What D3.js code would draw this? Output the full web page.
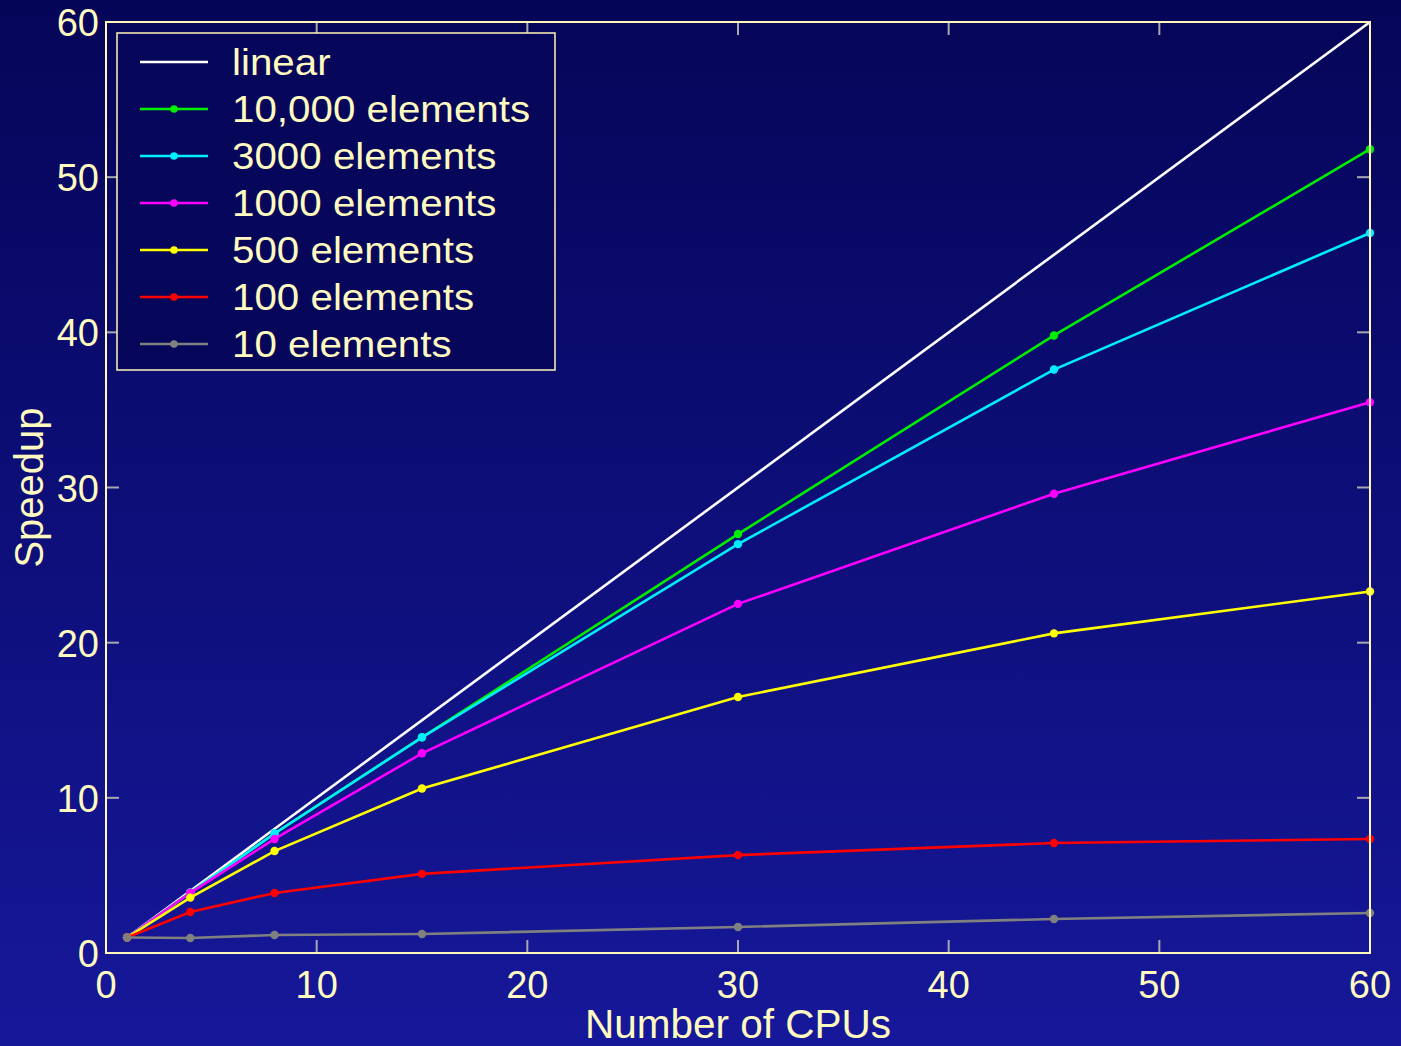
<!DOCTYPE html>
<html>
<head>
<meta charset="utf-8">
<script src="https://cdn.jsdelivr.net/npm/d3@7"></script>
<style>
  html, body { margin: 0; padding: 0; background: #0a0a6e; }
  svg { display: block; }
</style>
</head>
<body>
<svg id="chart" width="1401" height="1046"></svg>
<script>
// CPU counts measured
const cpus = [1, 4, 8, 15, 30, 45, 60];

// speedup per problem size
const speed10000 = [1, 3.9, 7.7, 13.9, 27.0, 39.8, 51.8];
const speed3000  = [1, 3.9, 7.7, 13.9, 26.35, 37.6, 46.4];
const speed1000  = [1, 3.88, 7.35, 12.87, 22.5, 29.6, 35.5];
const speed500   = [1, 3.57, 6.57, 10.6, 16.5, 20.6, 23.3];
const speed100   = [1, 2.64, 3.87, 5.1, 6.31, 7.09, 7.35];
const speed10    = [1, 0.97, 1.16, 1.22, 1.68, 2.19, 2.58];

const seriesNames  = ['10,000 elements', '3000 elements', '1000 elements', '500 elements', '100 elements', '10 elements'];
const seriesValues = [speed10000, speed3000, speed1000, speed500, speed100, speed10];
const seriesColors = ['#00ee00', '#00eeff', '#ff00ff', '#ffff00', '#ff0000', '#808080'];

const xTicks = [0, 10, 20, 30, 40, 50, 60];
const yTicks = [0, 10, 20, 30, 40, 50, 60];

const W = 1401, H = 1046;
const textCol = '#fffbc0';
const frameCol = '#fff8b8';
const tickCol = '#a8a8b0';
const font = 'Liberation Sans, Arial, Helvetica, sans-serif';

const svg = d3.select('#chart');

// background gradient
const defs = svg.append('defs');
const grad = defs.append('linearGradient').attr('id', 'bg')
  .attr('x1', 0).attr('y1', 0).attr('x2', 0).attr('y2', 1);
grad.append('stop').attr('offset', '0%').attr('stop-color', '#050558');
grad.append('stop').attr('offset', '100%').attr('stop-color', '#16189a');
svg.append('rect').attr('width', W).attr('height', H).attr('fill', 'url(#bg)');

const x = d3.scaleLinear().domain([0, 60]).range([106, 1370]);
const y = d3.scaleLinear().domain([0, 60]).range([953, 22]);

// inward ticks on all four sides
const tl = 13;
const g = svg.append('g');
xTicks.slice(1, -1).forEach(t => {
  g.append('line').attr('x1', x(t)).attr('x2', x(t)).attr('y1', y(0)).attr('y2', y(0) - tl)
    .attr('stroke', tickCol).attr('stroke-width', 2);
  g.append('line').attr('x1', x(t)).attr('x2', x(t)).attr('y1', y(60)).attr('y2', y(60) + tl)
    .attr('stroke', tickCol).attr('stroke-width', 2);
});
yTicks.slice(1, -1).forEach(t => {
  g.append('line').attr('x1', x(0)).attr('x2', x(0) + tl).attr('y1', y(t)).attr('y2', y(t))
    .attr('stroke', tickCol).attr('stroke-width', 2);
  g.append('line').attr('x1', x(60)).attr('x2', x(60) - tl).attr('y1', y(t)).attr('y2', y(t))
    .attr('stroke', tickCol).attr('stroke-width', 2);
});

// tick labels
svg.append('g').selectAll('text').data(xTicks).join('text')
  .attr('x', d => x(d)).attr('y', 998)
  .attr('text-anchor', 'middle')
  .attr('font-family', font).attr('font-size', 38).attr('fill', textCol)
  .text(d => d);
svg.append('g').selectAll('text').data(yTicks).join('text')
  .attr('x', 99).attr('y', d => y(d) + 14)
  .attr('text-anchor', 'end')
  .attr('font-family', font).attr('font-size', 38).attr('fill', textCol)
  .text(d => d);

// axis titles
svg.append('text').attr('x', x(30)).attr('y', 1038)
  .attr('text-anchor', 'middle')
  .attr('font-family', font).attr('font-size', 40.5).attr('fill', textCol)
  .text('Number of CPUs');
svg.append('text').attr('transform', `translate(42.5,${y(30)}) rotate(-90)`)
  .attr('text-anchor', 'middle')
  .attr('font-family', font).attr('font-size', 40).attr('fill', textCol)
  .text('Speedup');

// lines
const line = d3.line().x(d => x(d[0])).y(d => y(d[1]));

svg.append('path').datum([[1, 1], [60, 60]])
  .attr('d', line).attr('fill', 'none').attr('stroke', '#ffffff').attr('stroke-width', 2.6);

seriesValues.forEach((vals, i) => {
  const pts = cpus.map((c, j) => [c, vals[j]]);
  svg.append('path').datum(pts)
    .attr('d', line).attr('fill', 'none')
    .attr('stroke', seriesColors[i]).attr('stroke-width', 2.6);
  svg.append('g').selectAll('circle').data(pts).join('circle')
    .attr('cx', d => x(d[0])).attr('cy', d => y(d[1])).attr('r', 4.2)
    .attr('fill', seriesColors[i]);
});

// frame
svg.append('rect').attr('x', x(0)).attr('y', y(60))
  .attr('width', x(60) - x(0)).attr('height', y(0) - y(60))
  .attr('fill', 'none').attr('stroke', frameCol).attr('stroke-width', 2);

// legend
const leg = svg.append('g');
leg.append('rect').attr('x', 117).attr('y', 33).attr('width', 438).attr('height', 337)
  .attr('fill', '#06065a').attr('stroke', frameCol).attr('stroke-width', 1.5);
const legNames = ['linear', ...seriesNames];
const legColors = ['#ffffff', ...seriesColors];
legNames.forEach((name, i) => {
  const cy = 62 + i * 47;
  leg.append('line').attr('x1', 140).attr('x2', 208).attr('y1', cy).attr('y2', cy)
    .attr('stroke', legColors[i]).attr('stroke-width', 2.6);
  if (i > 0) {
    leg.append('circle').attr('cx', 174).attr('cy', cy).attr('r', 3.8).attr('fill', legColors[i]);
  }
  leg.append('text').attr('transform', `translate(232,${cy + 13}) scale(1.09,1)`)
    .attr('font-family', font).attr('font-size', 37).attr('fill', textCol)
    .text(name);
});
</script>
</body>
</html>
